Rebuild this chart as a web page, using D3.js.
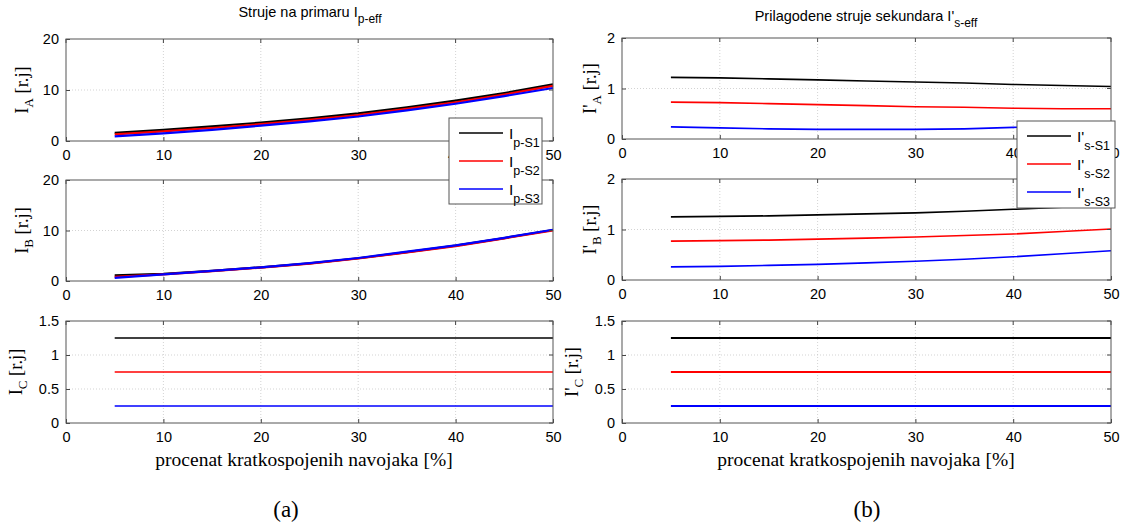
<!DOCTYPE html>
<html><head><meta charset="utf-8">
<script src="https://cdn.jsdelivr.net/npm/d3@7"></script>
<style>
body{margin:0;background:#fff;}
svg{display:block;}
</style></head>
<body>
<svg id="c" width="1125" height="525"></svg>
<script>
// ---- data ----
const xValues = [5,10,15,20,25,30,35,40,45,50];
const xTicks = [0,10,20,30,40,50];
const seriesColors = ["#000000","#ff0000","#0000ff"];

const primA_S1 = [1.6,2.2,2.85,3.6,4.45,5.4,6.6,7.9,9.4,11.1];
const primA_S2 = [1.3,1.9,2.55,3.3,4.15,5.1,6.3,7.6,9.1,10.8];
const primA_S3 = [0.9,1.5,2.2,3.0,3.85,4.8,6.0,7.3,8.8,10.4];

const primB_S1 = [1.1,1.4,2.0,2.7,3.5,4.5,5.7,7.0,8.5,10.1];
const primB_S2 = [0.8,1.3,1.95,2.65,3.45,4.45,5.65,6.9,8.45,10.0];
const primB_S3 = [0.6,1.3,2.0,2.7,3.55,4.55,5.8,7.05,8.55,10.15];

const primC_S1 = [1.25,1.25,1.25,1.25,1.25,1.25,1.25,1.25,1.25,1.25];
const primC_S2 = [0.75,0.75,0.75,0.75,0.75,0.75,0.75,0.75,0.75,0.75];
const primC_S3 = [0.25,0.25,0.25,0.25,0.25,0.25,0.25,0.25,0.25,0.25];

const secA_S1 = [1.22,1.21,1.19,1.17,1.15,1.13,1.11,1.08,1.06,1.04];
const secA_S2 = [0.73,0.72,0.70,0.68,0.66,0.64,0.63,0.61,0.60,0.60];
const secA_S3 = [0.24,0.22,0.20,0.19,0.19,0.19,0.20,0.23,0.25,0.28];

const secB_S1 = [1.25,1.26,1.27,1.29,1.31,1.33,1.36,1.40,1.44,1.48];
const secB_S2 = [0.77,0.78,0.79,0.81,0.83,0.85,0.88,0.91,0.96,1.01];
const secB_S3 = [0.26,0.27,0.29,0.31,0.34,0.37,0.41,0.46,0.52,0.58];

const secC_S1 = [1.25,1.25,1.25,1.25,1.25,1.25,1.25,1.25,1.25,1.25];
const secC_S2 = [0.75,0.75,0.75,0.75,0.75,0.75,0.75,0.75,0.75,0.75];
const secC_S3 = [0.25,0.25,0.25,0.25,0.25,0.25,0.25,0.25,0.25,0.25];

const yTicksPrimAB = [0,10,20];
const yTicksSecAB = [0,1,2];
const yTicksC = [0,0.5,1,1.5];
const yTickLabelsC = ["0","0.5","1","1.5"];

const legendPrim = ["p-S1","p-S2","p-S3"];
const legendSec = ["s-S1","s-S2","s-S3"];

// ---- drawing ----
const svg = d3.select("#c");
const SANS = "'Liberation Sans', Arial, sans-serif";
const SERIF = "'Liberation Serif', 'Times New Roman', serif";

function panel(opts){
  const {x0,x1,y0,y1,yDomain,yTicks,yTickFmt,series,lw,ylabMain,ylabSub,ylabX} = opts;
  const xs = d3.scaleLinear().domain([0,50]).range([x0,x1]);
  const ys = d3.scaleLinear().domain(yDomain).range([y1,y0]);
  const g = svg.append("g");
  // grid
  g.selectAll(".gx").data(xTicks.filter(t=>t>0&&t<50)).enter().append("line")
    .attr("x1",d=>xs(d)).attr("x2",d=>xs(d)).attr("y1",y0).attr("y2",y1)
    .attr("stroke","#c8c8c8").attr("stroke-width",0.8).attr("stroke-dasharray","1,2");
  g.selectAll(".gy").data(yTicks.filter(t=>t>yDomain[0]&&t<yDomain[1])).enter().append("line")
    .attr("y1",d=>ys(d)).attr("y2",d=>ys(d)).attr("x1",x0).attr("x2",x1)
    .attr("stroke","#c8c8c8").attr("stroke-width",0.8).attr("stroke-dasharray","1,2");
  // lines
  const line = d3.line().x((d,i)=>xs(xValues[i])).y(d=>ys(d));
  series.forEach((s,i)=>{
    g.append("path").datum(s).attr("d",line).attr("fill","none")
      .attr("stroke",seriesColors[i]).attr("stroke-width",lw);
  });
  // axes (ticks inward)
  const ax = d3.axisBottom(xs).tickValues(xTicks).tickSize(-4).tickPadding(8).tickFormat(d3.format("d"));
  const axG = g.append("g").attr("transform",`translate(0,${y1})`).call(ax);
  const ay = d3.axisLeft(ys).tickValues(yTicks).tickSize(-4).tickPadding(7).tickFormat(yTickFmt);
  const ayG = g.append("g").attr("transform",`translate(${x0},0)`).call(ay);
  [axG,ayG].forEach(a=>{
    a.select(".domain").remove();
    a.selectAll("line").attr("stroke","#444");
    a.selectAll("text").attr("font-family",SANS).attr("font-size",14.5).attr("fill","#000");
  });
  axG.selectAll("text").attr("dy","0.75em");
  // right/top ticks
  g.selectAll(".rt").data(yTicks).enter().append("line")
    .attr("x1",x1).attr("x2",x1-4).attr("y1",d=>ys(d)).attr("y2",d=>ys(d)).attr("stroke","#444");
  g.selectAll(".tt").data(xTicks).enter().append("line")
    .attr("y1",y0).attr("y2",y0+4).attr("x1",d=>xs(d)).attr("x2",d=>xs(d)).attr("stroke","#444");
  // box
  g.append("rect").attr("x",x0).attr("y",y0).attr("width",x1-x0).attr("height",y1-y0)
    .attr("fill","none").attr("stroke","#555").attr("stroke-width",1);
  // y label
  const t = g.append("text").attr("transform",`translate(${ylabX},${(y0+y1)/2}) rotate(-90)`)
    .attr("text-anchor","middle").attr("font-family",SERIF).attr("font-size",18.5).attr("fill","#000");
  t.append("tspan").text(ylabMain);
  t.append("tspan").attr("font-size",13).attr("dy",5).text(ylabSub);
  t.append("tspan").attr("dy",-5).text(" [r.j]");
  return {xs,ys};
}

const fmtInt = d3.format("d");
const fmtC = (d)=>yTickLabelsC[yTicksC.indexOf(d)];

const L = {x0:66,x1:553};
const R = {x0:622,x1:1111};

panel({...L,y0:39,y1:141,yDomain:[0,20],yTicks:yTicksPrimAB,yTickFmt:fmtInt,series:[primA_S1,primA_S2,primA_S3],lw:2.2,ylabMain:"I",ylabSub:"A",ylabX:28});
panel({...L,y0:180,y1:281,yDomain:[0,20],yTicks:yTicksPrimAB,yTickFmt:fmtInt,series:[primB_S1,primB_S2,primB_S3],lw:2.2,ylabMain:"I",ylabSub:"B",ylabX:28});
panel({...L,y0:321,y1:423,yDomain:[0,1.5],yTicks:yTicksC,yTickFmt:fmtC,series:[primC_S1,primC_S2,primC_S3],lw:1.6,ylabMain:"I",ylabSub:"C",ylabX:22});

panel({...R,y0:38,y1:139,yDomain:[0,2],yTicks:yTicksSecAB,yTickFmt:fmtInt,series:[secA_S1,secA_S2,secA_S3],lw:1.6,ylabMain:"I'",ylabSub:"A",ylabX:596});
panel({...R,y0:179,y1:280,yDomain:[0,2],yTicks:yTicksSecAB,yTickFmt:fmtInt,series:[secB_S1,secB_S2,secB_S3],lw:1.6,ylabMain:"I'",ylabSub:"B",ylabX:596});
panel({...R,y0:321,y1:423,yDomain:[0,1.5],yTicks:yTicksC,yTickFmt:fmtC,series:[secC_S1,secC_S2,secC_S3],lw:1.8,ylabMain:"I'",ylabSub:"C",ylabX:578});

// legends
function legend(x,y,w,h,main,subs){
  const g = svg.append("g");
  g.append("rect").attr("x",x).attr("y",y).attr("width",w).attr("height",h)
    .attr("fill","#fff").attr("stroke","#555").attr("stroke-width",1);
  subs.forEach((s,i)=>{
    const yy = y+15+i*28;
    g.append("line").attr("x1",x+10).attr("x2",x+54).attr("y1",yy).attr("y2",yy)
      .attr("stroke",seriesColors[i]).attr("stroke-width",1.3);
    const t = g.append("text").attr("x",x+60).attr("y",yy+6)
      .attr("font-family",SANS).attr("font-size",15.5).attr("fill","#000");
    t.append("tspan").text(main);
    t.append("tspan").attr("font-size",12.5).attr("dy",8).text(s);
  });
}
legend(449,118,93,86,"I",legendPrim);
legend(1017,121,98,87,"I'",legendSec);

// titles
function title(cx,y,main,sub){
  const t = svg.append("text").attr("x",cx).attr("y",y).attr("text-anchor","middle")
    .attr("font-family",SANS).attr("font-size",14.5).attr("fill","#000");
  t.append("tspan").text(main);
  t.append("tspan").attr("font-size",12).attr("dy",6).text(sub);
}
title(310,17,"Struje na primaru I","p-eff");
title(866,21,"Prilagodene struje sekundara I'","s-eff");

// x labels
[[304,"procenat kratkospojenih navojaka [%]"],[866,"procenat kratkospojenih navojaka [%]"]].forEach(([cx,txt])=>{
  svg.append("text").attr("x",cx).attr("y",466).attr("text-anchor","middle")
    .attr("font-family",SERIF).attr("font-size",19.5).attr("fill","#000").text(txt);
});
[[286,"(a)"],[867,"(b)"]].forEach(([cx,txt])=>{
  svg.append("text").attr("x",cx).attr("y",517).attr("text-anchor","middle")
    .attr("font-family",SERIF).attr("font-size",23).attr("fill","#000").text(txt);
});
</script>
</body></html>
